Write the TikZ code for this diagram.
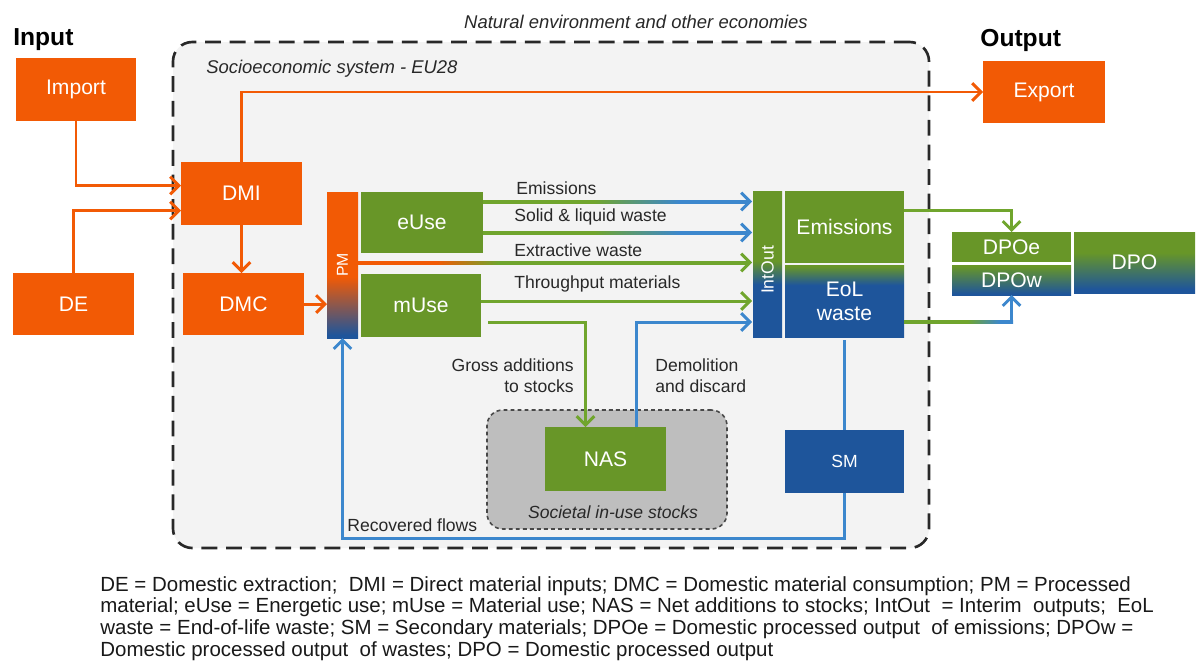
\documentclass[tikz,border=0pt]{standalone}
\usepackage{fontspec}
\setmainfont{Liberation Sans}
\usetikzlibrary{arrows.meta,calc,fit}

\definecolor{orng}{RGB}{242,90,5}
\definecolor{grn}{RGB}{104,150,40}
\definecolor{blu}{RGB}{30,85,155}
\definecolor{ablu}{RGB}{60,135,205}
\definecolor{agrn}{RGB}{112,165,45}
\definecolor{txt}{RGB}{40,40,40}
\definecolor{sysfill}{RGB}{243,243,243}
\definecolor{stockfill}{RGB}{190,190,190}

\pgfdeclareverticalshading{pmsh}{100bp}{color(0bp)=(blu); color(26bp)=(blu); color(46bp)=(orng); color(100bp)=(orng)}
\pgfdeclareverticalshading{iosh}{100bp}{color(0bp)=(blu); color(43bp)=(blu); color(51bp)=(grn); color(100bp)=(grn)}
\pgfdeclareverticalshading{eolsh}{100bp}{color(0bp)=(blu); color(61bp)=(blu); color(74bp)=(grn); color(100bp)=(grn)}
\pgfdeclareverticalshading{dposh}{100bp}{color(0bp)=(blu); color(28bp)=(blu); color(58bp)=(grn); color(100bp)=(grn)}
\pgfdeclareverticalshading{dpowsh}{100bp}{color(0bp)=(blu); color(27bp)=(blu); color(73bp)=(grn); color(100bp)=(grn)}
\pgfdeclarehorizontalshading{gbsh}{100bp}{color(0bp)=(agrn); color(46bp)=(agrn); color(62bp)=(ablu); color(100bp)=(ablu)}
\pgfdeclarehorizontalshading{ogsh}{100bp}{color(0bp)=(orng); color(35bp)=(orng); color(43bp)=(agrn); color(100bp)=(agrn)}
\pgfdeclarehorizontalshading{gbtwosh}{100bp}{color(0bp)=(agrn); color(54bp)=(agrn); color(69bp)=(ablu); color(100bp)=(ablu)}

\tikzset{
  box/.style={inner sep=0pt, outer sep=0pt},
  lbl/.style={inner sep=0pt, text=white, font=\fontsize{12}{14}\selectfont, align=center},
  flow/.style={line width=1.7pt},
  arr/.style={-{Straight Barb[length=5pt,width=10pt]}},
  lab/.style={font=\fontsize{10}{12}\selectfont, text=txt, inner sep=0pt},
  ital/.style={font=\itshape\fontsize{10.5}{12}\selectfont, text=txt, inner sep=0pt},
  head/.style={font=\bfseries\fontsize{14}{16}\selectfont, text=black, inner sep=0pt},
}

\begin{document}
\begin{tikzpicture}[x=0.02cm,y=-0.02cm]
\useasboundingbox (0,0) rectangle (1196,670);

% system boundaries
\node[fit={(173,42)(929,548)}, inner sep=0pt, draw=txt, line width=1.5pt,
      dash pattern=on 9pt off 5pt, rounded corners=11pt, fill=sysfill] (sys) {};
\node[fit={(487,410)(727,529)}, inner sep=0pt, draw=txt!85, line width=0.9pt,
      dash pattern=on 2.2pt off 1.8pt, rounded corners=9pt, fill=stockfill] (stocks) {};

% headings
\node[head, anchor=west] (inlab) at (13,40) {Input};
\node[head, anchor=west] (outlab) at (980,40) {Output};
\node[ital] (natlab) at (636,22) {Natural environment and other economies};
\node[ital, anchor=west] (soclab) at (206,69) {Socioeconomic system - EU28};
\node[ital, font=\itshape\fontsize{10}{12}\selectfont] (stocklab) at (613,512) {Societal in-use stocks};

% boxes
\node[box, fill=orng, fit={(16,58)(136,121)}, label={[lbl]center:Import}] (Import) {};
\node[box, fill=orng, fit={(13,273)(134,335)}, label={[lbl]center:DE}] (DE) {};
\node[box, fill=orng, fit={(181,162)(302,225)}, label={[lbl]center:DMI}] (DMI) {};
\node[box, fill=orng, fit={(183,273)(304,335)}, label={[lbl]center:DMC}] (DMC) {};
\node[box, fill=orng, fit={(983,61)(1105,123)}, label={[lbl]center:Export}] (Export) {};
\node[box, shade, shading=pmsh, fit={(327,192)(358,338)}] (PM) {};
\node[lbl, rotate=90, font=\fontsize{9}{10}\selectfont] (PMlab) at (PM.center) {PM};
\node[box, fill=grn, fit={(361,192)(483,253)}, label={[lbl]center:eUse}] (eUse) {};
\node[box, fill=grn, fit={(361,274)(481,337)}, label={[lbl]center:mUse}] (mUse) {};
\node[box, shade, shading=iosh, fit={(753,191)(782,337)}] (IntOut) {};
\node[lbl, rotate=90, font=\fontsize{10}{11}\selectfont] (IOlab) at ($(IntOut.center)+(0,6)$) {IntOut};
\node[box, fill=grn, fit={(785,191)(904,263)}, label={[lbl]center:Emissions}] (Emis) {};
\node[box, shade, shading=eolsh, fit={(785,265)(904,337)},
      label={[lbl, font=\fontsize{12}{13.5}\selectfont]center:EoL\\waste}] (EoL) {};
\node[box, fill=grn, fit={(952,232)(1071,262)}, label={[lbl]center:DPOe}] (DPOe) {};
\node[box, shade, shading=dpowsh, fit={(952,265)(1071,295)}, label={[lbl]center:DPOw}] (DPOw) {};
\node[box, shade, shading=dposh, fit={(1074,232)(1195,293)}, label={[lbl]center:DPO}] (DPO) {};
\node[box, fill=grn, fit={(545,427)(666,491)}, label={[lbl]center:NAS}] (NAS) {};
\node[box, fill=blu, fit={(785,430)(904,493)}, label={[lbl, font=\fontsize{10}{12}\selectfont]center:SM}] (SM) {};

% orange flows
\draw[flow, orng, arr] (Import.south) |- ($(DMI.west)+(0,-8)$);
\draw[flow, orng, arr] (DE.north) |- ($(DMI.west)+(0,17)$);
\draw[flow, orng, arr] (DMI.north) |- (Export.west);
\draw[flow, orng, arr] (DMI.south) -- (DMI.south |- DMC.north);
\draw[flow, orng, arr] (DMC.east) -- (DMC.east -| PM.west);

% emissions
\shade[shading=gbsh] ($(eUse.north east)+(0,8)$) rectangle ($(eUse.north east -| IntOut.west)+(-5,11)$);
\draw[flow, ablu, arr] ($(eUse.north east -| IntOut.west)+(-14,9.5)$) -- ($(eUse.north east -| IntOut.west)+(-1,9.5)$);
% solid & liquid waste
\shade[shading=gbsh] ($(eUse.east)+(0,8.5)$) rectangle ($(eUse.east -| IntOut.west)+(-5,11.5)$);
\draw[flow, ablu, arr] ($(eUse.east -| IntOut.west)+(-14,10)$) -- ($(eUse.east -| IntOut.west)+(-1,10)$);
% extractive waste
\shade[shading=ogsh] ($(PM.east)+(0,-4)$) rectangle ($(PM.east -| IntOut.west)+(-5,-1)$);
\draw[flow, agrn, arr] ($(PM.east -| IntOut.west)+(-14,-2.5)$) -- ($(PM.east -| IntOut.west)+(-1,-2.5)$);
% throughput
\draw[flow, agrn, arr] ($(mUse.east)+(0,-4.5)$) -- ($(mUse.east -| IntOut.west)+(-1,-4.5)$);
% gross additions
\draw[flow, agrn, arr] ($(mUse.east)+(7,17)$) -| ($(NAS.north)+(-20,0)$);
% demolition
\draw[flow, ablu, arr] ($(NAS.north)+(31,0)$) |- ($(IntOut.west)+(-1,58)$);
% outputs
\draw[flow, agrn, arr] ($(Emis.north east)+(0,19)$) -| (DPOe.north);
\shade[shading=gbtwosh] ($(EoL.south east)+(0,-16.5)$) rectangle ($(EoL.south east -| DPOw.south)+(1.5,-13.5)$);
\draw[flow, ablu, arr] ($(EoL.south east -| DPOw.south)+(0,-15)$) -- (DPOw.south);
% secondary materials
\draw[flow, ablu] ($(EoL.south)+(0,3)$) -- (SM.north);
\draw[flow, ablu, arr] (SM.south) -- ++(0,45) -| (PM.south);

% flow labels
\node[lab, anchor=west] (l1) at (516,188) {Emissions};
\node[lab, anchor=west] (l2) at (514,217) {Solid \& liquid waste};
\node[lab, anchor=west] (l3) at (514,250) {Extractive waste};
\node[lab, anchor=west] (l4) at (514,284) {Throughput materials};
\node[lab, anchor=east, align=right, font=\fontsize{10}{12}\selectfont] (l5) at (574,376) {Gross additions\\to stocks};
\node[lab, anchor=west, align=left, font=\fontsize{10}{12}\selectfont] (l6) at (655,376) {Demolition\\and discard};
\node[lab, anchor=west] (l7) at (347,525) {Recovered flows};

% legend
\node[anchor=north west, align=left, inner sep=0pt, text=black!90,
      font=\fontsize{11.65}{12.3}\selectfont] (legend) at (100,576)
{DE = Domestic extraction;\ \ DMI = Direct material inputs; DMC = Domestic material consumption; PM = Processed\\
material; eUse = Energetic use; mUse = Material use; NAS = Net additions to stocks; IntOut\ \ = Interim\ \ outputs;\ \ EoL\\
waste = End-of-life waste; SM = Secondary materials; DPOe = Domestic processed output\ \ of emissions; DPOw =\\
Domestic processed output\ \ of wastes; DPO = Domestic processed output};
\end{tikzpicture}
\end{document}
